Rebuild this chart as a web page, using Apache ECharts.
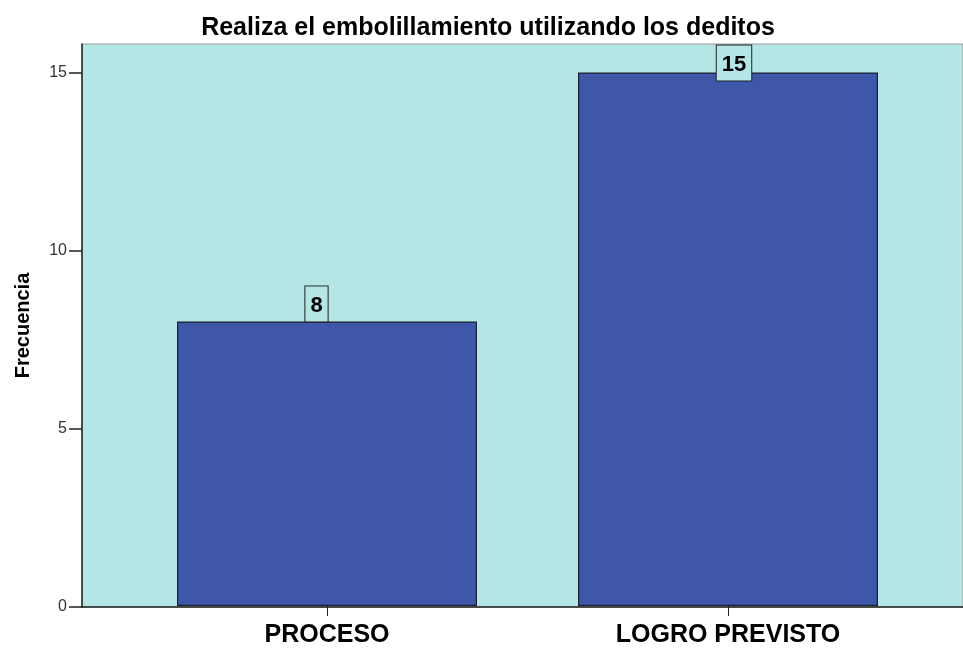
<!DOCTYPE html>
<html><head><meta charset="utf-8">
<script src="https://cdn.jsdelivr.net/npm/echarts@6/dist/echarts.min.js"></script>
<style>html,body{margin:0;padding:0;background:#fff}#c{width:963px;height:648px}</style>
</head><body><div id="c"></div>
<script>
const titleText = 'Realiza el embolillamiento utilizando los deditos';
const categories = ['PROCESO', 'LOGRO PREVISTO'];
const frecuencia = [8, 15];
const yAxisName = 'Frecuencia';
const yTicks = [0, 5, 10, 15];
const labelOffsets = [[-10.5, 0], [6, 8]];

const chart = echarts.init(document.getElementById('c'));
const yMax = 15.8;
chart.setOption({
  animation: false,
  title: { text: titleText, left: 483, top: 11, textAlign: 'center',
    textStyle: { fontFamily: 'Liberation Sans, Arial', fontWeight: 'bold', fontSize: 25, color: '#000' } },
  grid: [
    { left: 82, right: 0, top: 44, bottom: 41, show: true, backgroundColor: '#b4e6e6', borderColor: '#9a9a9a', borderWidth: 1 },
    { left: 126.5, width: 802, top: 44, bottom: 41 }
  ],
  xAxis: [
    { gridIndex: 0, type: 'category', data: [''], axisLine: { lineStyle: { color: '#222', width: 1.5 } },
      axisTick: { show: false }, axisLabel: { show: false } },
    { gridIndex: 1, type: 'category', data: categories,
      axisLine: { show: false },
      axisTick: { show: true, alignWithLabel: true, length: 10, lineStyle: { color: '#222' } },
      axisLabel: { margin: 17, fontFamily: 'Liberation Sans, Arial', fontWeight: 'bold', fontSize: 25, color: '#000' } }
  ],
  yAxis: [
    { gridIndex: 0, type: 'value', min: 0, max: yMax, interval: 5,
      name: yAxisName, nameLocation: 'middle', nameGap: 49, nameRotate: 90,
      nameTextStyle: { fontFamily: 'Liberation Sans, Arial', fontWeight: 'bold', fontSize: 20, color: '#000' },
      axisLine: { show: true, lineStyle: { color: '#222', width: 1.5 } },
      axisTick: { show: true, length: 13, customValues: yTicks, lineStyle: { color: '#222', width: 1.5 } },
      axisLabel: { margin: 15, fontFamily: 'Liberation Sans, Arial', fontSize: 16, color: '#333', customValues: yTicks,
        formatter: v => (yTicks.indexOf(v) >= 0 ? String(v) : '') },
      splitLine: { show: false } },
    { gridIndex: 1, type: 'value', min: 0, max: yMax, show: false }
  ],
  series: [{
    type: 'bar', xAxisIndex: 1, yAxisIndex: 1, barWidth: 300,
    itemStyle: { color: '#3f57a9', borderColor: '#1e1e2e', borderWidth: 1.2 },
    data: frecuencia.map((v, i) => ({ value: v,
      label: { show: true, position: 'top', distance: 0, offset: labelOffsets[i],
        fontFamily: 'Liberation Sans, Arial', fontWeight: 'bold', fontSize: 22, color: '#000',
        backgroundColor: '#b4e6e6', borderColor: '#222', borderWidth: 1, padding: [8, 5, 5, 5] } }))
  }]
});
</script></body></html>
